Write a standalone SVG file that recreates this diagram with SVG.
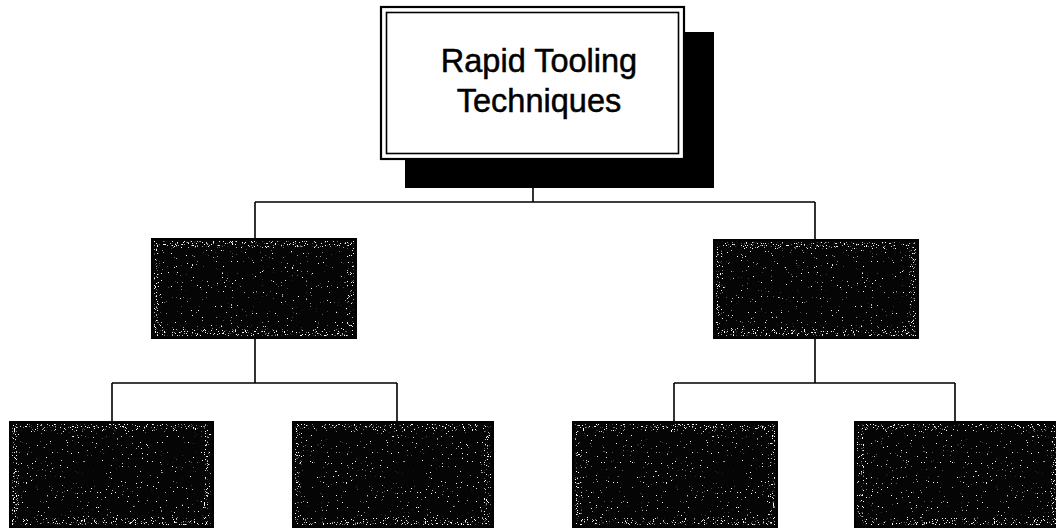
<svg xmlns="http://www.w3.org/2000/svg" width="1056" height="528" viewBox="0 0 1056 528">
<style>
.bg{fill:#fff}
.dark{fill:#050505;stroke:#000;stroke-width:2}
.spk{fill:#fff;filter:url(#sparse)}
.edge{fill:none;stroke:#fff;stroke-width:7;filter:url(#dense)}
.conn{fill:none;stroke:#000;stroke-width:1.6}
.title{font-family:"Liberation Sans",Arial,sans-serif;font-size:32.5px;fill:#000;stroke:#000;stroke-width:0.5;text-anchor:middle}
</style>
<defs>
<filter id="sparse" x="0" y="0" width="1" height="1">
<feTurbulence type="fractalNoise" baseFrequency="0.8" numOctaves="2" seed="4" result="n"/>
<feColorMatrix in="n" type="matrix" values="0 0 0 0 1 0 0 0 0 1 0 0 0 0 1 16 0 0 0 -11.6" result="m"/>
<feComposite in="m" in2="SourceGraphic" operator="in"/>
</filter>
<filter id="dense" x="-5%" y="-5%" width="110%" height="110%">
<feTurbulence type="fractalNoise" baseFrequency="0.9" numOctaves="2" seed="9" result="n"/>
<feColorMatrix in="n" type="matrix" values="0 0 0 0 1 0 0 0 0 1 0 0 0 0 1 14 0 0 0 -8.9" result="m"/>
<feComposite in="m" in2="SourceGraphic" operator="in"/>
</filter>
</defs>
<rect class="bg" x="0" y="0" width="1056" height="528"/>
<g id="connectors">
<path class="conn" d="M533 187V202M255 202H815M255 202V239M815 202V240"/>
<path class="conn" d="M255 338V383M112 383H397M112 383V422M397 383V422"/>
<path class="conn" d="M815 338V383M674 383H955M674 383V422M955 383V422"/>
</g>
<g id="root">
<rect x="405" y="32" width="309" height="156" fill="#000"/>
<rect x="381" y="7" width="303" height="152" fill="#fff" stroke="#000" stroke-width="2.2"/>
<rect x="386.5" y="12.5" width="292" height="141" fill="none" stroke="#000" stroke-width="1.6"/>
<text class="title" x="539" y="72">Rapid Tooling</text>
<text class="title" x="539" y="112">Techniques</text>
</g>
<g id="mid-left">
<rect class="dark" x="152" y="239" width="204" height="99"/>
<rect class="spk" x="154" y="241" width="200" height="95"/>
<rect class="edge" x="157.5" y="244.5" width="193" height="88"/>
</g>
<g id="mid-right">
<rect class="dark" x="714" y="240" width="204" height="98"/>
<rect class="spk" x="716" y="242" width="200" height="94"/>
<rect class="edge" x="719.5" y="245.5" width="193" height="87"/>
</g>
<g id="leaf-1">
<rect class="dark" x="10" y="422" width="203" height="105"/>
<rect class="spk" x="12" y="424" width="199" height="101"/>
<rect class="edge" x="15.5" y="427.5" width="192" height="94"/>
</g>
<g id="leaf-2">
<rect class="dark" x="293" y="422" width="200" height="105"/>
<rect class="spk" x="295" y="424" width="196" height="101"/>
<rect class="edge" x="298.5" y="427.5" width="189" height="94"/>
</g>
<g id="leaf-3">
<rect class="dark" x="573" y="422" width="204" height="105"/>
<rect class="spk" x="575" y="424" width="200" height="101"/>
<rect class="edge" x="578.5" y="427.5" width="193" height="94"/>
</g>
<g id="leaf-4">
<rect class="dark" x="855" y="422" width="205" height="105"/>
<rect class="spk" x="857" y="424" width="201" height="101"/>
<rect class="edge" x="860.5" y="427.5" width="194" height="94"/>
</g>
</svg>
